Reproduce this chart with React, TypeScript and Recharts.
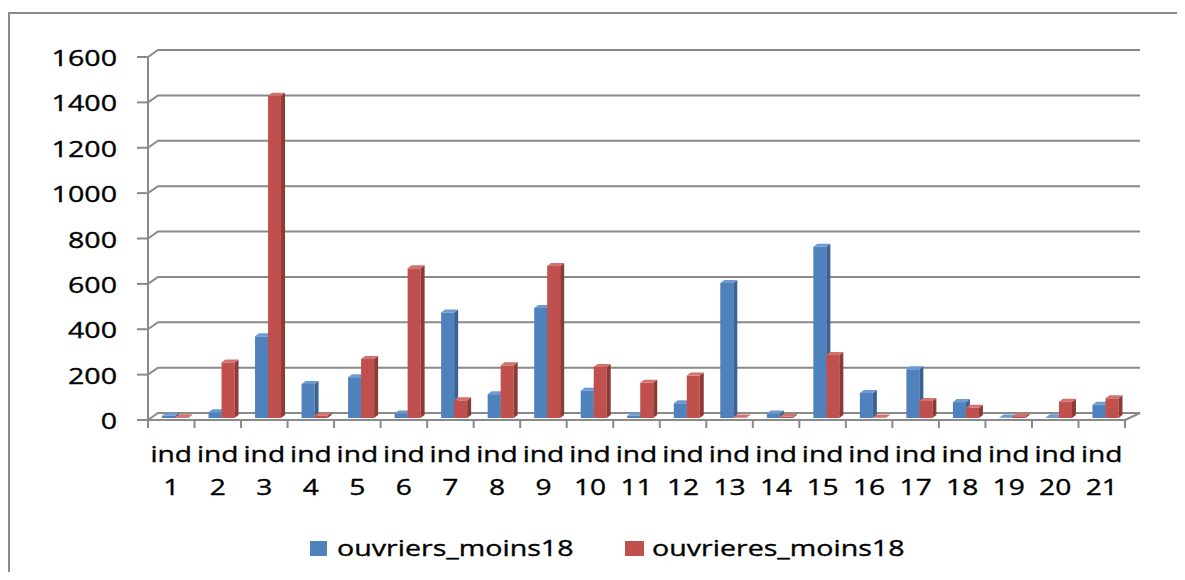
import React from "react";
import { BarChart, Bar, XAxis, YAxis, CartesianGrid, Legend } from "recharts";

const categories = [
  "ind 1", "ind 2", "ind 3", "ind 4", "ind 5", "ind 6", "ind 7",
  "ind 8", "ind 9", "ind 10", "ind 11", "ind 12", "ind 13", "ind 14",
  "ind 15", "ind 16", "ind 17", "ind 18", "ind 19", "ind 20", "ind 21",
];

const ouvriers = [
  10, 25, 360, 150, 180, 20, 465, 105, 485, 120, 10, 65, 595, 20, 755, 110,
  215, 70, 2, 3, 58,
];

const ouvrieres = [
  3, 245, 1420, 10, 260, 660, 78, 232, 670, 225, 155, 187, 2, 5, 278, 2, 75,
  45, 8, 72, 87,
];

const yTicks = [0, 200, 400, 600, 800, 1000, 1200, 1400, 1600];

const data = categories.map((name, i) => ({
  name,
  ouvriers_moins18: ouvriers[i],
  ouvrieres_moins18: ouvrieres[i],
}));

const FONT = "'Open Sans', 'Noto Sans', sans-serif";
const GRID = "#8a8a8a";
const TEXT_STROKE = { stroke: "#000", strokeWidth: 0.35 };

const BLUE = { front: "#4F81BD", top: "#6C9AD2", side: "#3A6293" };
const RED = { front: "#C0504D", top: "#D2716E", side: "#8E3A37" };

// depth of the fake 3d
const DX = 10;
const DY = 7;

function Bar3D(props: any) {
  const { x, y, width, height, colors } = props;
  if (x == null || y == null) return null;
  const bx = x + 4;
  const by = y - 2;
  const h = Math.max(height || 0, 0);
  const w = width;
  const d = 4;
  const e = 3;
  return (
    <g>
      <rect x={bx} y={by} width={w} height={h} fill={colors.front} />
      <path
        d={`M${bx + w},${by} L${bx + w + d},${by - e} L${bx + w + d},${by + h - e} L${bx + w},${by + h} Z`}
        fill={colors.side}
      />
      <path
        d={`M${bx},${by} L${bx + d},${by - e} L${bx + w + d},${by - e} L${bx + w},${by} Z`}
        fill={colors.top}
      />
    </g>
  );
}

function GridLine(p: any) {
  const { x1, y1, x2 } = p;
  const bottom = (p.y ?? 0) + (p.height ?? 0);
  const isFloor = Math.abs(y1 - bottom) < 1;
  let d = `M${x1},${y1} L${x1 + DX},${y1 - DY} L${x2 + 15},${y1 - DY}`;
  if (isFloor) d += ` L${x2},${y1}`;
  return <path key={p.key} d={d} stroke={GRID} strokeWidth={2} fill="none" />;
}

function YTick(p: any) {
  const { x, y, payload } = p;
  return (
    <text
      transform={`translate(${x},${y + 9}) scale(1.3,1)`}
      textAnchor="end"
      fontFamily={FONT}
      fontSize={22}
      fill="#000"
      {...TEXT_STROKE}
    >
      {payload.value}
    </text>
  );
}

function XTick(p: any) {
  const { x, y, payload, index, visibleTicksCount, width } = p;
  const band = width / visibleTicksCount;
  const [a, b] = String(payload.value).split(" ");
  const left = x - band / 2;
  return (
    <g>
      <line x1={left} y1={y - 8} x2={left} y2={y} stroke={GRID} strokeWidth={2} />
      {index === visibleTicksCount - 1 && (
        <line x1={x + band / 2} y1={y - 8} x2={x + band / 2} y2={y} stroke={GRID} strokeWidth={2} />
      )}
      <text
        transform={`translate(${x},${y + 34}) scale(1.28,1)`}
        textAnchor="middle"
        fontFamily={FONT}
        fontSize={22}
        fill="#000"
        {...TEXT_STROKE}
      >
        {a}
      </text>
      <text
        transform={`translate(${x},${y + 67}) scale(1.28,1)`}
        textAnchor="middle"
        fontFamily={FONT}
        fontSize={22}
        fill="#000"
        {...TEXT_STROKE}
      >
        {b}
      </text>
    </g>
  );
}

function LegendContent() {
  return (
    <svg width={1185} height={40} style={{ display: "block" }}>
      <rect x={310} y={16} width={17} height={15} fill={BLUE.front} />
      <text
        transform="translate(337,31) scale(1.3,1)"
        fontFamily={FONT}
        fontSize={22}
        fill="#000"
        {...TEXT_STROKE}
      >
        ouvriers_moins18
      </text>
      <rect x={625} y={16} width={19} height={15} fill={RED.front} />
      <text
        transform="translate(652,31) scale(1.3,1)"
        fontFamily={FONT}
        fontSize={22}
        fill="#000"
        {...TEXT_STROKE}
      >
        ouvrieres_moins18
      </text>
    </svg>
  );
}

export default function App() {
  return (
    <div
      style={{
        position: "relative",
        margin: -8,
        width: 1185,
        height: 580,
        overflow: "hidden",
        background: "#fff",
      }}
    >
      <div
        style={{
          position: "absolute",
          left: 8,
          top: 12,
          width: 2000,
          height: 2000,
          borderLeft: `2px solid ${GRID}`,
          borderTop: `2px solid ${GRID}`,
        }}
      />
      <div style={{ position: "absolute", left: 0, top: 0 }}>
        <BarChart
          width={1185}
          height={580}
          data={data}
          margin={{ top: 57, right: 60, left: 0, bottom: 0 }}
          barGap={0}
          barSize={13}
        >
          <CartesianGrid vertical={false} horizontal={GridLine as any} />
          <XAxis
            dataKey="name"
            height={160}
            interval={0}
            tickSize={8}
            tickMargin={0}
            tickLine={false}
            axisLine={{ stroke: GRID, strokeWidth: 2 }}
            tick={<XTick />}
          />
          <YAxis
            width={148}
            domain={[0, 1600]}
            ticks={yTicks}
            interval={0}
            tickSize={11}
            tickMargin={20}
            tickLine={{ stroke: GRID, strokeWidth: 2 }}
            axisLine={{ stroke: GRID, strokeWidth: 2 }}
            tick={<YTick />}
          />
          <Legend
            layout="horizontal"
            verticalAlign="middle"
            align="center"
            wrapperStyle={{ top: 525, left: 0, width: 1185, height: 40 }}
            content={<LegendContent />}
          />
          <Bar
            dataKey="ouvriers_moins18"
            isAnimationActive={false}
            shape={(p: any) => <Bar3D {...p} colors={BLUE} />}
          />
          <Bar
            dataKey="ouvrieres_moins18"
            isAnimationActive={false}
            shape={(p: any) => <Bar3D {...p} colors={RED} />}
          />
        </BarChart>
      </div>
    </div>
  );
}
